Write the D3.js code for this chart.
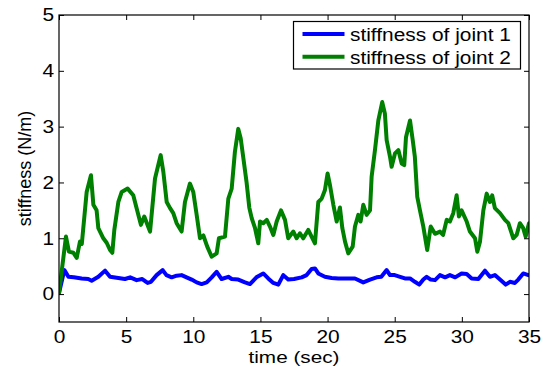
<!DOCTYPE html>
<html>
<head>
<meta charset="utf-8">
<script src="https://cdn.jsdelivr.net/npm/d3@7"></script>
<style>
  body { margin: 0; background: #fff; }
  svg { display: block; font-family: "Liberation Sans", Arial, Helvetica, sans-serif; }
</style>
</head>
<body>
<svg id="chart" width="553" height="367"></svg>
<script>
// stiffness of joint 1 (blue)
const time1 = [0,0.4,0.7,1.1,1.69,2.18,2.43,2.93,3.43,3.8,4.42,4.91,5.3,5.78,6.2,6.6,6.85,7.27,7.72,8.0,8.39,8.76,9.13,9.5,9.88,10.25,10.62,11.0,11.37,11.74,12.11,12.61,12.86,13.35,13.85,14.22,14.7,15.21,15.58,15.96,16.33,16.7,17.07,17.5,18.07,18.44,18.81,19.06,19.31,19.8,20.3,20.8,21.4,22.04,22.66,23.16,23.65,24.0,24.4,24.65,25.0,25.4,25.76,26.14,26.5,26.83,27.13,27.38,27.68,28.0,28.37,28.75,29.11,29.5,29.98,30.36,30.73,31.23,31.72,32.09,32.46,32.84,33.26,33.58,33.95,34.2,34.57,34.95];
const stiff1 = [0.02,0.43,0.31,0.3,0.28,0.27,0.24,0.31,0.42,0.31,0.29,0.27,0.3,0.25,0.27,0.2,0.22,0.34,0.43,0.34,0.3,0.33,0.34,0.3,0.26,0.21,0.18,0.21,0.3,0.4,0.27,0.31,0.27,0.26,0.21,0.18,0.3,0.37,0.28,0.2,0.17,0.34,0.26,0.27,0.3,0.34,0.45,0.46,0.37,0.31,0.29,0.28,0.28,0.28,0.21,0.26,0.3,0.31,0.43,0.34,0.34,0.31,0.28,0.28,0.22,0.17,0.26,0.31,0.26,0.25,0.34,0.3,0.34,0.3,0.37,0.36,0.28,0.27,0.42,0.31,0.34,0.26,0.17,0.22,0.2,0.26,0.37,0.34];

// stiffness of joint 2 (green)
const time2 = [0,0.52,0.74,1.07,1.32,1.56,1.7,2.06,2.38,2.56,2.8,2.93,3.3,3.55,3.8,3.97,4.12,4.42,4.67,5.11,5.53,5.78,6.1,6.35,6.78,7.15,7.57,7.77,8.02,8.27,8.51,8.76,9.13,9.38,9.75,10.0,10.25,10.5,10.75,11.04,11.37,11.74,11.91,12.36,12.61,12.86,13.1,13.35,13.53,13.72,13.97,14.17,14.35,14.6,14.84,14.97,15.21,15.47,15.71,15.96,16.21,16.53,16.83,17.07,17.45,17.7,17.94,18.19,18.56,18.81,19.06,19.31,19.56,19.8,20.0,20.18,20.43,20.68,20.92,21.1,21.3,21.54,21.87,22.04,22.29,22.46,22.66,22.91,23.16,23.28,23.53,23.78,24.07,24.27,24.4,24.65,24.77,25.02,25.27,25.52,25.71,25.84,26.14,26.34,26.5,26.68,26.88,27.13,27.42,27.68,28.0,28.37,28.6,28.87,29.11,29.36,29.61,29.78,29.98,30.36,30.6,30.98,31.15,31.35,31.6,31.85,32.09,32.26,32.46,32.84,33.21,33.46,33.83,34.08,34.32,34.57,34.75,35];
const stiff2 = [0.02,1.03,0.76,0.74,0.65,0.94,0.9,1.83,2.13,1.6,1.5,1.18,1.0,0.92,0.79,0.74,1.15,1.65,1.83,1.89,1.77,1.54,1.24,1.39,1.12,2.07,2.49,2.19,1.65,1.54,1.45,1.27,1.12,1.65,1.98,1.83,1.42,1.0,1.05,0.85,0.67,0.73,1.0,1.03,1.71,1.89,2.55,2.96,2.79,2.45,2.0,1.55,1.36,1.18,0.91,1.3,1.27,1.33,1.21,1.06,1.3,1.5,1.33,1.0,1.12,1.0,1.09,1.0,1.15,1.03,0.91,1.65,1.71,1.86,2.16,1.95,1.6,1.3,1.55,1.18,0.94,0.73,0.85,1.21,1.42,1.3,1.6,1.42,1.5,2.1,2.58,3.11,3.44,3.23,2.76,2.46,2.28,2.52,2.58,2.34,2.31,2.81,3.11,2.76,2.46,1.74,1.5,1.21,0.79,1.21,1.08,1.12,1.06,1.33,1.3,1.45,1.77,1.39,1.5,1.3,1.12,1.0,0.76,0.94,1.5,1.8,1.65,1.77,1.54,1.45,1.33,1.27,1.0,1.06,1.27,1.18,1.03,1.27];

const xTicks = [0, 5, 10, 15, 20, 25, 30, 35];
const yTicks = [0, 1, 2, 3, 4, 5];
const seriesNames = ["stiffness of joint 1", "stiffness of joint 2"];

const margin = { left: 59, right: 24, top: 15, bottom: 45 };
const width = 553, height = 367;
const fontSize = 18;
const stretch = "scale(1.16,1)"; // the original export is a bit wider than tall
const svg = d3.select("#chart");

const x = d3.scaleLinear().domain([0, 35]).range([margin.left, width - margin.right]);
const y = d3.scaleLinear().domain([-0.5, 5]).range([height - margin.bottom, margin.top]);

const toPoints = (ts, vs) => ts.map((t, i) => [t, vs[i]]);
const series = [
  { name: seriesNames[0], color: "#0000ff", data: toPoints(time1, stiff1) },
  { name: seriesNames[1], color: "#008000", data: toPoints(time2, stiff2) },
];

const line = d3.line().x(d => x(d[0])).y(d => y(d[1]));

svg.append("clipPath").attr("id", "plotclip")
  .append("rect")
  .attr("x", x(0)).attr("y", y(5))
  .attr("width", x(35) - x(0)).attr("height", y(-0.5) - y(5));

svg.append("g").attr("clip-path", "url(#plotclip)")
  .selectAll("path")
  .data(series)
  .enter()
  .append("path")
  .attr("d", d => line(d.data))
  .attr("fill", "none")
  .attr("stroke", d => d.color)
  .attr("stroke-width", 4)
  .attr("stroke-linejoin", "round")
  .attr("stroke-linecap", "round");

// axes, ticks pointing inward on all four sides
const tickLen = 5;

svg.append("g")
  .attr("transform", `translate(0,${y(-0.5)})`)
  .call(d3.axisBottom(x).tickValues(xTicks).tickSize(-tickLen).tickPadding(8).tickFormat(d3.format("d")))
  .call(g => g.select(".domain").remove())
  .call(g => g.selectAll("text").attr("font-size", fontSize).attr("fill", "#000").attr("transform", stretch));

svg.append("g")
  .attr("transform", `translate(0,${y(5)})`)
  .call(d3.axisTop(x).tickValues(xTicks).tickSize(-tickLen).tickFormat(""))
  .call(g => g.select(".domain").remove());

svg.append("g")
  .attr("transform", `translate(${x(0)},0)`)
  .call(d3.axisLeft(y).tickValues(yTicks).tickSize(-tickLen).tickPadding(4.3).tickFormat(d3.format("d")))
  .call(g => g.select(".domain").remove())
  .call(g => g.selectAll("text").attr("font-size", fontSize).attr("fill", "#000").attr("transform", stretch));

svg.append("g")
  .attr("transform", `translate(${x(35)},0)`)
  .call(d3.axisRight(y).tickValues(yTicks).tickSize(-tickLen).tickFormat(""))
  .call(g => g.select(".domain").remove());

svg.append("rect")
  .attr("x", x(0)).attr("y", y(5))
  .attr("width", x(35) - x(0)).attr("height", y(-0.5) - y(5))
  .attr("fill", "none").attr("stroke", "#000").attr("stroke-width", 1.2);

// axis labels
svg.append("text")
  .attr("transform", `translate(${(x(0) + x(35)) / 2},362.5) scale(1.22,1)`)
  .attr("text-anchor", "middle").attr("font-size", 17)
  .text("time (sec)");

svg.append("text")
  .attr("transform", `translate(31,${(y(5) + y(-0.5)) / 2}) rotate(-90)`)
  .attr("text-anchor", "middle").attr("font-size", fontSize)
  .text("stiffness (N/m)");

// legend
const legend = svg.append("g").attr("transform", "translate(293.5,21.5)");
legend.append("rect")
  .attr("width", 227).attr("height", 47.5)
  .attr("fill", "#fff").attr("stroke", "#000").attr("stroke-width", 1.2);

const items = legend.selectAll(".item")
  .data(series)
  .enter()
  .append("g")
  .attr("transform", (d, i) => `translate(0,${12.5 + i * 22.7})`);

items.append("line")
  .attr("x1", 9).attr("x2", 51)
  .attr("stroke", d => d.color).attr("stroke-width", 4);

items.append("text")
  .attr("transform", `translate(56.5,7) ${stretch}`)
  .attr("font-size", fontSize)
  .text(d => d.name);
</script>
</body>
</html>
